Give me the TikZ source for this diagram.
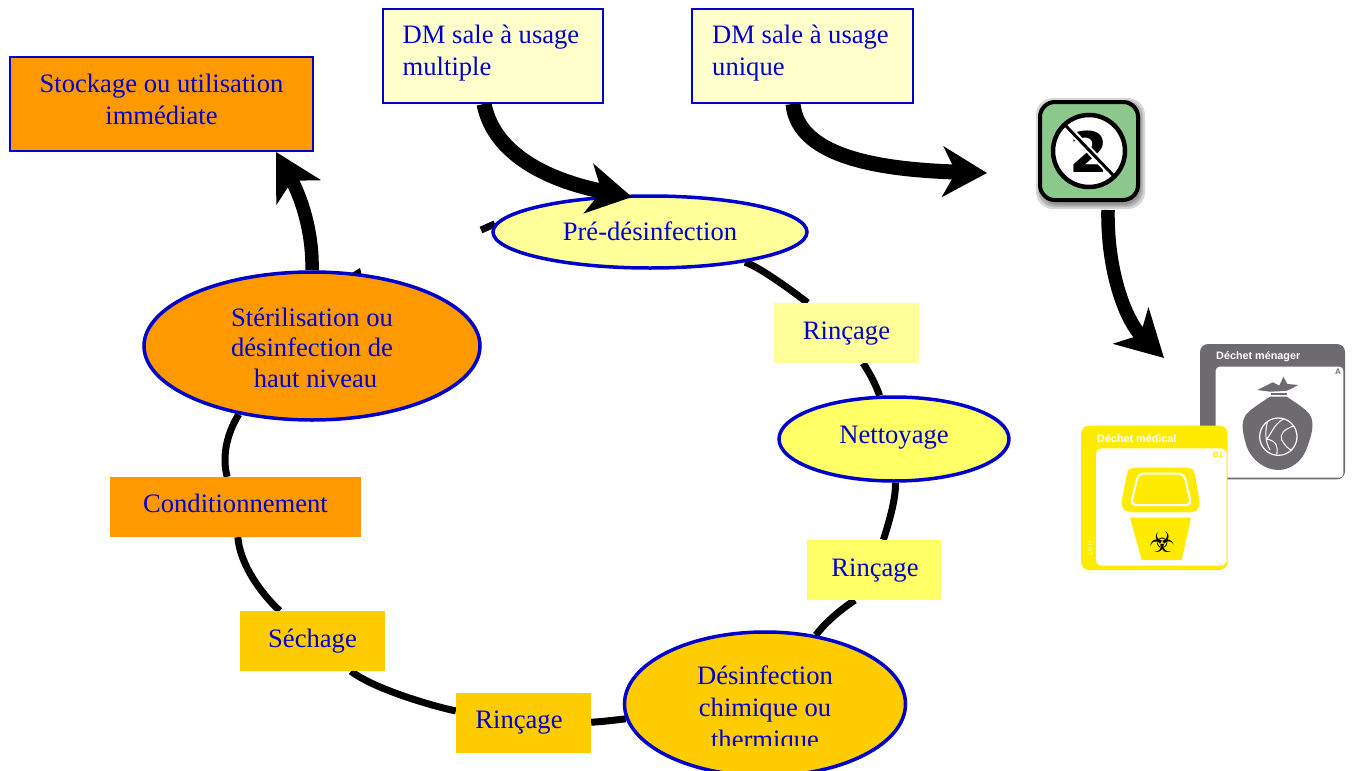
\documentclass[tikz,border=0pt]{standalone}
\usepackage{fontspec}
\setmainfont{Liberation Serif}
\newfontfamily\cardfont{Liberation Sans}
\newfontfamily\symfont{DejaVu Sans}
\usetikzlibrary{shapes.geometric,arrows.meta,backgrounds}
\definecolor{tblue}{HTML}{0000CC}
\definecolor{pale}{HTML}{FFFFCC}
\definecolor{lemon}{HTML}{FFFF99}
\definecolor{citron}{HTML}{FFFF66}
\definecolor{gold}{HTML}{FFCC00}
\definecolor{tangerine}{HTML}{FF9900}
\definecolor{cardgrey}{HTML}{6D6B70}
\definecolor{cardyellow}{HTML}{FFEB00}
\definecolor{icongreen}{HTML}{8CC78C}
\newcommand\lifted[3][c]{\raisebox{#2}[0pt][0pt]{\begin{tabular}{@{}#1@{}}#3\end{tabular}}}
\tikzset{
  x=1pt,y=-1pt,
  txt/.style={text=tblue,font=\fontsize{26.6}{32}\selectfont,inner sep=0pt},
  oval/.style={ellipse,draw=tblue,line width=3.5pt,txt},
  bluebox/.style={rectangle,draw=tblue,line width=1.8pt,txt},
  flatbox/.style={rectangle,txt},
  ring/.style={line width=7pt,black},
  bigarrow/.style={line width=15pt,black,-{Stealth[length=44pt,width=50pt,inset=13pt]}},
  midarrow/.style={line width=13.5pt,black,-{Stealth[length=46pt,width=50pt,inset=13pt]}},
}
\begin{document}
\begin{tikzpicture}
\useasboundingbox (0,0) rectangle (1352,771);

% boxes
\node[bluebox,fill=pale,minimum width=220pt,minimum height=94pt] (dma) at (493,56) {\hspace*{-4pt}\lifted[l]{-3pt}{DM sale à usage\\multiple}};
\node[bluebox,fill=pale,minimum width=221pt,minimum height=94pt] (dmb) at (802.5,56) {\hspace*{-4pt}\lifted[l]{-3pt}{DM sale à usage\\unique}};
\node[bluebox,fill=tangerine,minimum width=303pt,minimum height=94pt] (stock) at (161.5,104) {\lifted{-4pt}{Stockage ou utilisation\\immédiate}};

% ovals
\node[oval,fill=lemon,minimum width=314pt,minimum height=72pt] (pre) at (650,232) {\lifted{-8pt}{Pré-désinfection}};
\node[oval,fill=citron,minimum width=230pt,minimum height=84pt] (net) at (894,439) {\lifted{-4pt}{Nettoyage}};
\node[oval,fill=gold,minimum width=281pt,minimum height=144pt] (des) at (765,704) {};
\begin{scope}
  \clip (600,620) rectangle (920,745);
  \node[txt] (destxt) at (765,708) {\lifted{-8pt}{Désinfection\\chimique ou\\thermique}};
\end{scope}
\node[oval,fill=tangerine,minimum width=336pt,minimum height=148pt] (ster) at (312,346) {\lifted{-10.5pt}{Stérilisation ou\\[-1.5pt]désinfection de\\[-1.5pt]\hspace*{7pt}haut niveau}};

% flat boxes
\node[flatbox,fill=lemon,minimum width=145pt,minimum height=60pt] (rina) at (846.5,333) {\lifted{-6pt}{Rinçage}};
\node[flatbox,fill=citron,minimum width=134pt,minimum height=60pt] (rinb) at (874,570) {\hspace*{2pt}\lifted{-6pt}{Rinçage}};
\node[flatbox,fill=gold,minimum width=135pt,minimum height=60pt] (rinc) at (523.5,723) {\hspace*{-9pt}\lifted{-5pt}{Rinçage}};
\node[flatbox,fill=gold,minimum width=145pt,minimum height=60pt] (sech) at (312.5,641) {\lifted{-6pt}{Séchage}};
\node[flatbox,fill=tangerine,minimum width=251pt,minimum height=60pt] (cond) at (235.5,507) {\lifted{-5pt}{Conditionnement}};

% ring connectors, behind the nodes
\coordinate (stub) at (481,230);
\begin{pgfonlayer}{background}
\fill[white] (0,0) rectangle (1352,771);
\draw[ring] (pre) .. controls (760,267) and (795,293) .. (rina);
\draw[ring] (rina) .. controls (863,363) and (874,379) .. (net);
\draw[ring] (net) .. controls (896,500) and (888,525) .. (rinb);
\draw[ring] (rinb) .. controls (855,600) and (830,616) .. (des);
\draw[ring] (des) .. controls (615,720) and (600,722) .. (rinc);
\draw[ring] (rinc) .. controls (440,708) and (375,690) .. (sech);
\draw[ring] (sech) .. controls (262,594.5) and (240,565) .. (cond);
\draw[ring] (cond) .. controls (222,458) and (226,435) .. (ster.223);
\draw[ring] (stub) -- (pre.177);
\fill[black] (352,273) -- (360,268) -- (362,276) -- cycle;
\end{pgfonlayer}

% icon
\foreach \g in {0,2,4}{
  \fill[black,opacity=.16,rounded corners=17pt] (1036+\g,98+\g) rectangle (1145-\g,209-\g);
}
\node[rectangle,rounded corners=15pt,draw=black,line width=4pt,fill=icongreen,minimum width=98pt,minimum height=98pt,inner sep=0pt] (icon) at (1089,151) {};
\node[circle,draw=black,line width=4.5pt,fill=white,minimum size=72pt,inner sep=0pt] (nocirc) at (1089,151) {};
\node[font=\symfont\bfseries\fontsize{56}{56}\selectfont,inner sep=0pt] (two) at (1089,152) {2};
\draw[white,line width=7pt] (1069,129) -- (1109,171);
\draw[black,line width=3pt] (1065,125) -- (1113,175);

% household waste card
\begin{scope}[shift={(1070,335)},scale=1/3]
\fill[cardgrey,rounded corners=8pt] (390,27) rectangle (825,433);
\fill[white,rounded corners=4pt] (437,95) rectangle (820,428);
\fill[cardgrey] (562,165) -- (608,142) -- (628,152) -- (640,125) -- (652,147) -- (685,150) -- (652,167) -- (625,169) -- (600,170) -- cycle;
\fill[cardgrey] (602,174) rectangle (650,180);
\fill[cardgrey] (600,185) -- (650,185) .. controls (680,205) and (705,220) .. (720,240) .. controls (735,265) and (725,300) .. (712,335) .. controls (700,375) and (665,405) .. (625,405) .. controls (585,405) and (545,375) .. (530,335) .. controls (520,300) and (510,265) .. (527,240) .. controls (545,220) and (570,205) .. (600,185) -- cycle;
\draw[white,line width=1.2pt] (625,305) circle (56);
\draw[white,line width=1pt] (592,262) .. controls (585,290) and (585,320) .. (600,345);
\draw[white,line width=1pt] (640,252) .. controls (610,270) and (605,295) .. (590,312) .. controls (620,318) and (625,335) .. (620,358);
\draw[white,line width=1pt] (672,272) .. controls (640,285) and (630,295) .. (635,315) .. controls (645,330) and (655,345) .. (667,345);
\end{scope}
\node[font=\cardfont\bfseries\fontsize{10.8}{10}\selectfont,text=white,anchor=west,inner sep=0pt] (menager) at (1216,357) {Déchet ménager};
\node[font=\cardfont\bfseries\fontsize{8}{8}\selectfont,text=cardgrey,inner sep=0pt] (cardA) at (1338,372) {A};

% medical waste card
\begin{scope}[shift={(1070,335)},scale=1/3]
\fill[cardyellow,rounded corners=8pt] (33,272) rectangle (473,705);
\fill[white,rounded corners=6pt] (78,340) rectangle (470,692);
\fill[cardyellow,rounded corners=5pt] (180,398) -- (362,398) -- (374,410) -- (391,518) -- (372,532) -- (172,532) -- (152,515) -- (172,410) -- cycle;
\draw[white,line width=2pt,rounded corners=5pt] (205,416) -- (342,416) -- (364,510) -- (182,510) -- cycle;
\fill[cardyellow] (180,548) -- (363,548) -- (335,675) -- (215,675) -- cycle;
\end{scope}
\node[font=\cardfont\bfseries\fontsize{10.8}{10}\selectfont,text=white,anchor=west,inner sep=0pt] (medical) at (1097,439) {Déchet médical};
\node[font=\cardfont\bfseries\fontsize{8}{8}\selectfont,text=cardyellow,inner sep=0pt] (cardB) at (1218,455) {B1};
\node[font=\symfont\fontsize{29}{29}\selectfont,text=black,inner sep=0pt] (bio) at (1162,542) {☣};
\node[font=\cardfont\fontsize{5.5}{5}\selectfont,text=white,rotate=-90,inner sep=0pt] (hot) at (1090,549) {H O T};

% large arrows
\coordinate (tipone) at (632,197);
\coordinate (tiptwo) at (987,173);
\coordinate (tipbin) at (1164,358);
\coordinate (iconbase) at (1108,210);
\draw[bigarrow] (dma.south -| 484,0) .. controls (495,160) and (560,183) .. (tipone);
\draw[bigarrow] (dmb.south -| 793,0) .. controls (798,160) and (890,170) .. (tiptwo);
\draw[midarrow] (iconbase) .. controls (1107,270) and (1125,320) .. (tipbin);
\draw[midarrow] (ster.north -| 312,0) .. controls (313,230) and (300,195) .. (stock.south -| 276,0);
\end{tikzpicture}
\end{document}
